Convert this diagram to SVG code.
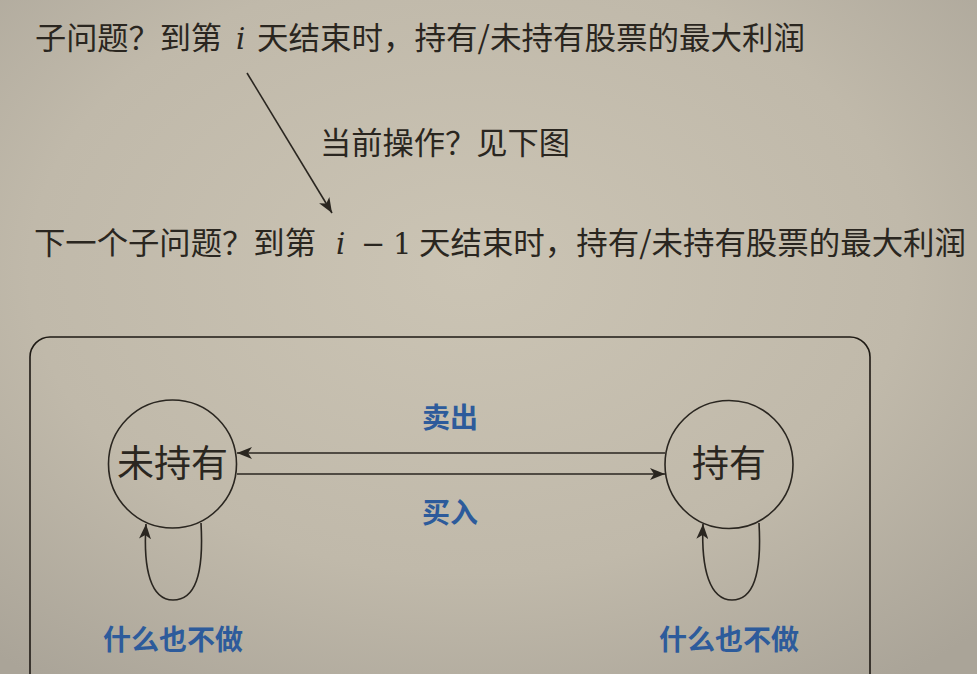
<svg xmlns="http://www.w3.org/2000/svg" width="977" height="674" viewBox="0 0 977 674">
  <defs>
    <radialGradient id="bg" cx="0.48" cy="0.4" r="0.75">
      <stop offset="0" stop-color="#cbc4b4"/>
      <stop offset="0.6" stop-color="#c0b9aa"/>
      <stop offset="1" stop-color="#aaa498"/>
    </radialGradient>
    <marker id="arr" markerUnits="userSpaceOnUse" markerWidth="16" markerHeight="12" refX="15" refY="6" orient="auto">
      <path d="M0,0 L15,6 L0,12 L4,6 z" fill="#2a2620"/>
    </marker>
  </defs>
  <style>
    .t { font-family: "Noto Sans CJK SC", "Noto Sans", sans-serif; fill: #2a2620; font-size: 31px; }
    .m { font-family: "DejaVu Serif", "Liberation Serif", serif; fill: #2a2620; font-size: 29px; }
    .mi { font-style: italic; }
    .node { fill: none; stroke: #2a2620; stroke-width: 1.6; }
    .nl { font-family: "Noto Sans CJK SC", "Noto Sans", sans-serif; fill: #2a2620; font-size: 37px; text-anchor: middle; }
    .lbl { font-family: "Noto Sans CJK SC", "Noto Sans", sans-serif; fill: #2d5b9b; font-size: 28px; font-weight: 700; text-anchor: middle; }
    .edge { fill: none; stroke: #2a2620; stroke-width: 1.6; marker-end: url(#arr); }
  </style>
  <rect width="977" height="674" fill="url(#bg)"/>

  <g id="line1">
    <text class="t" x="35" y="49" textLength="187" lengthAdjust="spacingAndGlyphs">子问题？到第</text>
    <text class="m mi" x="236" y="49">i</text>
    <text class="t" x="257" y="49" textLength="548" lengthAdjust="spacingAndGlyphs">天结束时，持有/未持有股票的最大利润</text>
  </g>
  <g id="line3">
    <text class="t" x="320" y="154" textLength="250" lengthAdjust="spacingAndGlyphs">当前操作？见下图</text>
  </g>
  <g id="line2">
    <text class="t" x="34" y="254" textLength="282" lengthAdjust="spacingAndGlyphs">下一个子问题？到第</text>
    <text class="m mi" x="336" y="254">i</text>
    <text class="m" x="361" y="254">−</text>
    <text class="m" x="393" y="254">1</text>
    <text class="t" x="419" y="254" textLength="547" lengthAdjust="spacingAndGlyphs">天结束时，持有/未持有股票的最大利润</text>
  </g>

  <g id="frame">
    <rect x="30" y="337" width="840" height="400" rx="20" ry="20" fill="none" stroke="#1e1a14" stroke-width="1.6"/>
  </g>

  <g id="node-notheld">
    <circle class="node" cx="172.5" cy="464" r="64"/>
    <text class="nl" x="172.5" y="477">未持有</text>
  </g>
  <g id="node-held">
    <circle class="node" cx="729" cy="464.5" r="64"/>
    <text class="nl" x="729" y="477">持有</text>
  </g>

  <g id="connectors">
    <path class="edge" d="M247,73 L332,213"/>
    <path class="edge" d="M665,453 L237,453"/>
    <path class="edge" d="M237,474 L665,474"/>
    <path class="edge" d="M201,523 C204,575 195,600 173,600 C151,600 143,570 146,524"/>
    <path class="edge" d="M759,523 C762,575 753,600 732,600 C710,600 701,570 703,524"/>
  </g>

  <g id="labels">
    <text class="lbl" x="450" y="428">卖出</text>
    <text class="lbl" x="450" y="523">买入</text>
    <text class="lbl" x="173" y="650">什么也不做</text>
    <text class="lbl" x="729" y="650">什么也不做</text>
  </g>
</svg>
